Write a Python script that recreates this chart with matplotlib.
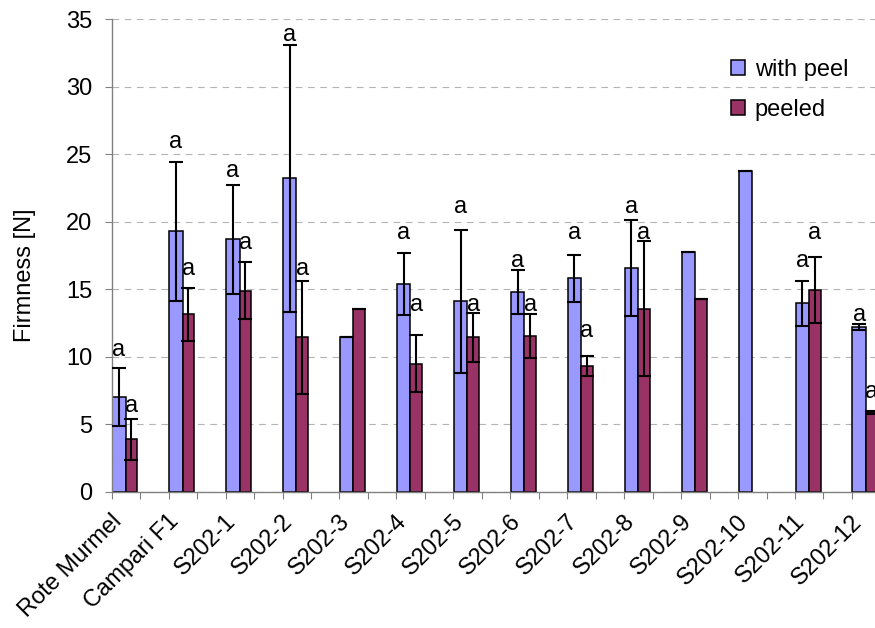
import matplotlib
matplotlib.use("Agg")
import matplotlib.pyplot as plt
import numpy as np

plt.rcParams['font.family'] = ['Liberation Sans', 'DejaVu Sans']

varieties = ["Rote Murmel", "Campari F1", "S202-1", "S202-2", "S202-3", "S202-4",
             "S202-5", "S202-6", "S202-7", "S202-8", "S202-9", "S202-10",
             "S202-11", "S202-12"]

# Firmness [N], mean and error
with_peel = [7.0, 19.3, 18.7, 23.2, 11.45, 15.4, 14.1, 14.8, 15.8, 16.6, 17.75, 23.75, 13.95, 12.2]
with_peel_err = [2.15, 5.15, 4.05, 9.85, 0.0, 2.3, 5.3, 1.65, 1.75, 3.55, 0.0, 0.0, 1.65, 0.22]
peeled = [3.9, 13.15, 14.9, 11.45, 13.55, 9.5, 11.45, 11.55, 9.35, 13.55, 14.25, np.nan, 14.95, 5.9]
peeled_err = [1.5, 1.95, 2.1, 4.2, 0.0, 2.1, 1.8, 1.65, 0.75, 5.0, 0.0, np.nan, 2.45, 0.1]

# significance letters and the height where each one sits
letters_peel = ["a", "a", "a", "a", "", "a", "a", "a", "a", "a", "", "", "a", "a"]
letters_peel_y = [10.06, 25.45, 23.31, 33.37, np.nan, 18.72, 20.64, 16.65, 18.72, 20.64, np.nan, np.nan, 16.65, 12.65]
letters_peeled = ["a", "a", "a", "a", "", "a", "a", "a", "a", "a", "", "", "a", "a"]
letters_peeled_y = [5.92, 16.06, 17.98, 16.06, np.nan, 13.39, 13.39, 13.39, 11.47, 18.72, np.nan, np.nan, 18.72, 6.96]

col_peel = '#9999FF'
col_peeled = '#993366'
FS = 17

fig = plt.figure(figsize=(8.75, 6.28), dpi=100)
ax = fig.add_axes([111.7 / 875, 1 - 492 / 628, (875 - 111.7) / 875, 473 / 628])

x = 2 * np.arange(len(varieties))
w1, w2 = 0.47, 0.41
x1 = x + 0.02
x2 = x + 0.49

ax.bar(x1, with_peel, width=w1, align='edge', color=col_peel, edgecolor='black',
       linewidth=1.1, label='with peel', zorder=2)
ax.bar(x2, peeled, width=w2, align='edge', color=col_peeled, edgecolor='black',
       linewidth=1.1, label='peeled', zorder=2)

c1 = x1 + w1 / 2
c2 = x2 + w2 / 2
wp = np.array(with_peel); wpe = np.array(with_peel_err)
pe = np.array(peeled); pee = np.array(peeled_err)
m2 = ~np.isnan(pe)
ax.errorbar(c1, wp, yerr=wpe, fmt='none', ecolor='black', elinewidth=1.5,
            capsize=5, capthick=1.5, zorder=3)
ax.errorbar(c2[m2], pe[m2], yerr=pee[m2], fmt='none', ecolor='black', elinewidth=1.5,
            capsize=5, capthick=1.5, zorder=3)

for xc, t, h in zip(c1, letters_peel, letters_peel_y):
    if t:
        ax.text(xc, h, t, ha='center', va='baseline', fontsize=FS, clip_on=False)
for xc, t, h in zip(c2, letters_peeled, letters_peeled_y):
    if t:
        ax.text(xc, h, t, ha='center', va='baseline', fontsize=FS, clip_on=False)

ax.set_ylim(0, 35)
ax.set_xlim(0, (875 - 111.7) / 28.47)
ax.set_yticks(np.arange(0, 36, 5))
ax.yaxis.grid(True, linestyle=(0, (6, 5)), color='#b4b4b4', linewidth=0.8)
ax.set_axisbelow(True)

ax.set_xticks(np.arange(0, 27))
ax.set_xticklabels([])
ax.set_xticks(x + 0.24, varieties, minor=True)
for lab in ax.get_xticklabels(minor=True):
    lab.set_rotation(45)
    lab.set_ha('right')
    lab.set_va('center')
    lab.set_rotation_mode('anchor')
    lab.set_fontsize(FS)

ax.tick_params(axis='x', which='major', length=5, color='#808080', direction='out')
ax.tick_params(axis='x', which='minor', length=0, pad=19)
ax.tick_params(axis='y', length=5, pad=9, labelsize=FS, color='#808080')

for s in ['top', 'right']:
    ax.spines[s].set_visible(False)
for s in ['left', 'bottom']:
    ax.spines[s].set_color('#808080')
    ax.spines[s].set_linewidth(1.0)

fig.text(25 / 875, 1 - 275.5 / 628, 'Firmness [N]', rotation=90, ha='center',
         va='center', fontsize=FS)

ax.legend(loc='upper left', bbox_to_anchor=(731 / 875, 1 - 59 / 628),
          bbox_transform=fig.transFigure, frameon=False, fontsize=FS,
          handlelength=0.6, handleheight=0.6, handletextpad=0.4,
          labelspacing=0.75, borderpad=0, borderaxespad=0)

fig.savefig('out.png', dpi=100)
